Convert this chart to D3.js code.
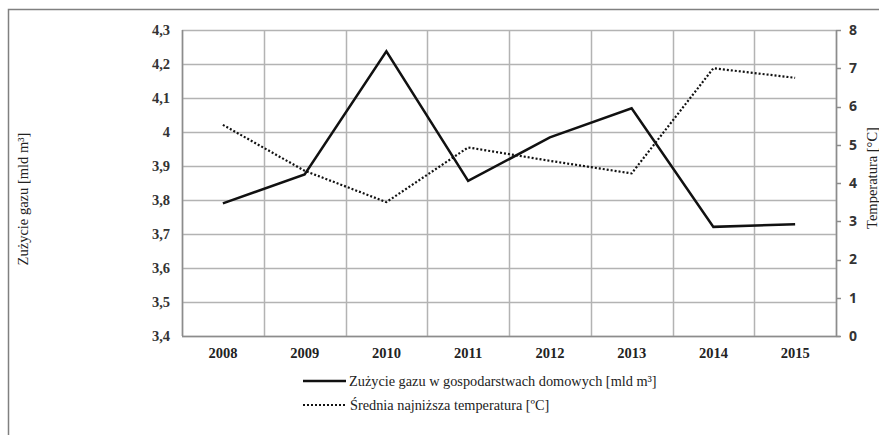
<!DOCTYPE html>
<html><head><meta charset="utf-8">
<script src="https://cdn.jsdelivr.net/npm/d3@7"></script>
<style>body{margin:0;background:#fff}svg{display:block}</style>
</head><body>
<svg id="c" width="879" height="435"></svg>
<script>
const years = ["2008","2009","2010","2011","2012","2013","2014","2015"];
const gas = [3.79, 3.875, 4.237, 3.856, 3.984, 4.07, 3.721, 3.729];
const temp = [5.52, 4.32, 3.5, 4.93, 4.58, 4.25, 7.0, 6.75];
const leftTicks = [3.4,3.5,3.6,3.7,3.8,3.9,4.0,4.1,4.2,4.3];
const rightTicks = [0,1,2,3,4,5,6,7,8];
const gasLabel = "Zużycie gazu w gospodarstwach domowych [mld m³]";
const tempLabel = "Średnia najniższa  temperatura [ºC]";

const svg = d3.select("#c");
const L = 182, R = 836, T = 30, B = 336;
const serif = "'Liberation Serif','DejaVu Serif',serif";
const sans = "'Open Sans','Noto Sans',sans-serif";

// outer frame
svg.append("rect").attr("x",8.5).attr("y",9.5).attr("width",900).attr("height",500)
  .attr("fill","none").attr("stroke","#808080").attr("stroke-width",1.5);

const x = d3.scaleBand().domain(years).range([L,R]);
const yL = d3.scaleLinear().domain([3.4,4.3]).range([B,T]);
const yR = d3.scaleLinear().domain([0,8]).range([B,T]);

const g = svg.append("g");
g.selectAll("line.h").data(leftTicks).join("line")
  .attr("x1",L).attr("x2",R).attr("y1",d=>Math.round(yL(d))+0.5).attr("y2",d=>Math.round(yL(d))+0.5)
  .attr("stroke","#b3b3b3").attr("stroke-width",1.5);
const bounds = years.map(d=>x(d)).concat([R]);
g.selectAll("line.v").data(bounds).join("line")
  .attr("x1",d=>Math.round(d)+0.5).attr("x2",d=>Math.round(d)+0.5).attr("y1",T).attr("y2",B)
  .attr("stroke","#b3b3b3").attr("stroke-width",1.5);
g.append("line").attr("x1",L+0.5).attr("x2",L+0.5).attr("y1",T).attr("y2",B).attr("stroke","#8c8c8c").attr("stroke-width",1.5);
g.append("line").attr("x1",L).attr("x2",R+4).attr("y1",B+0.5).attr("y2",B+0.5).attr("stroke","#8c8c8c").attr("stroke-width",1.5);
g.append("line").attr("x1",R+0.5).attr("x2",R+0.5).attr("y1",T).attr("y2",B).attr("stroke","#8c8c8c").attr("stroke-width",1.5);

svg.selectAll("text.yl").data(leftTicks).join("text")
  .attr("x",170).attr("y",d=>yL(d)).attr("dy","0.35em").attr("text-anchor","end")
  .attr("font-family",serif).attr("font-weight","bold").attr("font-size",14.5).attr("fill","#333")
  .text(d=>d3.format(".1f")(d).replace(".0","").replace(".",","));

svg.selectAll("line.tr").data(rightTicks).join("line")
  .attr("x1",R).attr("x2",R+5).attr("y1",d=>Math.round(yR(d))+0.5).attr("y2",d=>Math.round(yR(d))+0.5)
  .attr("stroke","#8c8c8c").attr("stroke-width",1.5);
svg.selectAll("text.yr").data(rightTicks).join("text")
  .attr("x",849).attr("y",d=>yR(d)).attr("dy","0.35em")
  .attr("font-family",sans).attr("font-weight","bold").attr("font-size",14).attr("fill","#333")
  .text(d=>d);

svg.selectAll("text.x").data(years).join("text")
  .attr("x",d=>x(d)+x.bandwidth()/2).attr("y",358).attr("text-anchor","middle")
  .attr("font-family",serif).attr("font-weight","bold").attr("font-size",14.5).attr("fill","#222")
  .text(d=>d);

svg.append("text").attr("transform","translate(28,199) rotate(-90)").attr("text-anchor","middle")
  .attr("font-family",serif).attr("font-size",14.5).attr("fill","#222").text("Zużycie gazu [mld m³]");
svg.append("text").attr("transform","translate(877,178) rotate(-90)").attr("text-anchor","middle")
  .attr("font-family",serif).attr("font-size",14.5).attr("fill","#222").text("Temperatura [°C]");

const cx = d=>x(d)+x.bandwidth()/2;
const lineGas = d3.line().x((d,i)=>cx(years[i])).y(d=>yL(d));
const lineTemp = d3.line().x((d,i)=>cx(years[i])).y(d=>yR(d));
svg.append("path").attr("d",lineTemp(temp)).attr("fill","none").attr("stroke","#111")
  .attr("stroke-width",2.2).attr("stroke-dasharray","2,2");
svg.append("path").attr("d",lineGas(gas)).attr("fill","none").attr("stroke","#111")
  .attr("stroke-width",2.5).attr("stroke-linejoin","miter");

const lg = svg.append("g");
lg.append("line").attr("x1",303).attr("x2",346).attr("y1",381).attr("y2",381).attr("stroke","#111").attr("stroke-width",2.5);
lg.append("text").attr("x",349).attr("y",381).attr("dy","0.35em").attr("font-family",serif).attr("font-size",14.3).attr("fill","#222").text(gasLabel);
lg.append("line").attr("x1",303).attr("x2",346).attr("y1",405).attr("y2",405).attr("stroke","#111").attr("stroke-width",2).attr("stroke-dasharray","2,2");
lg.append("text").attr("x",350).attr("y",405).attr("dy","0.35em").attr("font-family",serif).attr("font-size",14.3).attr("fill","#222").text(tempLabel);
</script>
</body></html>
